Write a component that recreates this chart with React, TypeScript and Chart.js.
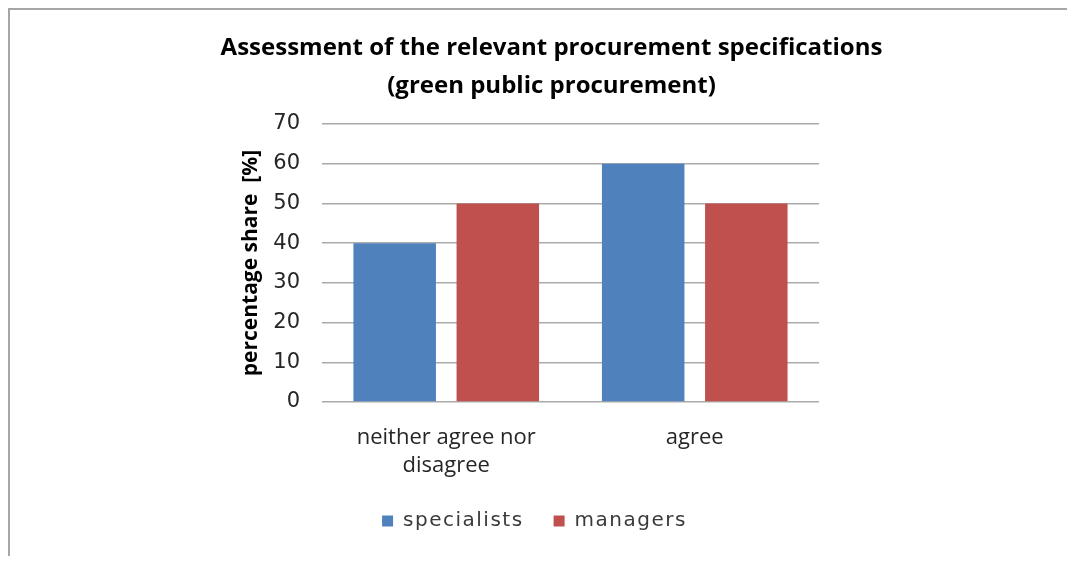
import React, { useEffect, useRef } from "react";
import { Chart, registerables } from "chart.js";

Chart.register(...registerables);

const categories: (string | string[])[] = [["neither agree nor", "disagree"], "agree"];
const seriesNames = ["specialists", "managers"];
const specialists = [40, 60];
const managers = [50, 50];
const yMin = 0;
const yMax = 70;
const yStep = 10;
const titleLines = [
  "Assessment of the relevant procurement specifications",
  "(green public procurement)",
];
const yAxisTitle = "percentage share  [%]";

const FONT = "'Open Sans', 'DejaVu Sans', sans-serif";
const TICK_FONT = "'DejaVu Sans', sans-serif";

// Widen the legend text with letter spacing, as in the reference.
const legendSpacing = {
  id: "legendSpacing",
  beforeUpdate(chart: any) {
    const lg = chart.legend;
    if (!lg || lg.__wrapped) return;
    lg.__wrapped = true;
    const wrap = (fn: any) =>
      function (this: any, ...args: any[]) {
        const c = this.ctx;
        const old = c.letterSpacing;
        c.letterSpacing = "1.5px";
        const r = fn.apply(this, args);
        c.letterSpacing = old === undefined ? "0px" : old;
        return r;
      };
    lg.fit = wrap(lg.fit);
    lg.draw = wrap(lg.draw);
  },
};

export default function App() {
  const ref = useRef<HTMLCanvasElement>(null);

  useEffect(() => {
    const chart = new Chart(ref.current as HTMLCanvasElement, {
      type: "bar",
      data: {
        labels: categories,
        datasets: [
          {
            label: seriesNames[0],
            data: specialists,
            backgroundColor: "#4F81BD",
            categoryPercentage: 0.83,
            barPercentage: 0.8,
          },
          {
            label: seriesNames[1],
            data: managers,
            backgroundColor: "#C0504D",
            categoryPercentage: 0.83,
            barPercentage: 0.8,
          },
        ],
      },
      options: {
        animation: false,
        responsive: false,
        maintainAspectRatio: false,
        layout: { padding: { left: 240, right: 256, top: 114, bottom: 23 } },
        plugins: {
          title: { display: false },
          tooltip: { enabled: false },
          legend: {
            position: "bottom",
            labels: {
              boxWidth: 11,
              boxHeight: 11,
              padding: 30,
              color: "#3a3a3a",
              font: { family: "'DejaVu Sans', sans-serif", size: 20 },
            },
          },
        },
        scales: {
          x: {
            grid: { display: false },
            border: { display: false },
            ticks: {
              color: "#262626",
              padding: 14,
              font: { family: FONT, size: 22, lineHeight: 1.27 },
              maxRotation: 0,
              autoSkip: false,
            },
            afterFit: (s: any) => {
              s.height = 79;
            },
          },
          y: {
            min: yMin,
            max: yMax,
            ticks: {
              stepSize: yStep,
              padding: 22,
              color: "#262626",
              font: { family: TICK_FONT, size: 21 },
            },
            grid: { color: "#ababab", lineWidth: 1.5, drawTicks: false },
            border: { display: false },
            title: {
              display: true,
              text: yAxisTitle,
              color: "#000000",
              font: { family: FONT, size: 21, weight: "bold" },
              padding: { top: -12, bottom: 0 },
            },
            afterFit: (s: any) => {
              s.width = 72;
            },
          },
        },
      },
      plugins: [legendSpacing],
    } as any);
    return () => chart.destroy();
  }, []);

  return (
    <div
      style={{
        position: "relative",
        width: 1067,
        height: 556,
        marginBottom: -8,
        boxSizing: "border-box",
        borderTop: "2px solid #a6a6a6",
        borderLeft: "2px solid #a6a6a6",
      }}
    >
      <canvas ref={ref} width={1065} height={554} style={{ display: "block" }} />
      <div
        style={{
          position: "absolute",
          left: 541.5,
          top: 17,
          transform: "translateX(-50%)",
          textAlign: "center",
          whiteSpace: "nowrap",
          fontFamily: FONT,
          fontWeight: "bold",
          fontSize: 24,
          lineHeight: "38px",
          color: "#000000",
        }}
      >
        {titleLines.map((t, i) => (
          <div key={i}>{t}</div>
        ))}
      </div>
    </div>
  );
}
